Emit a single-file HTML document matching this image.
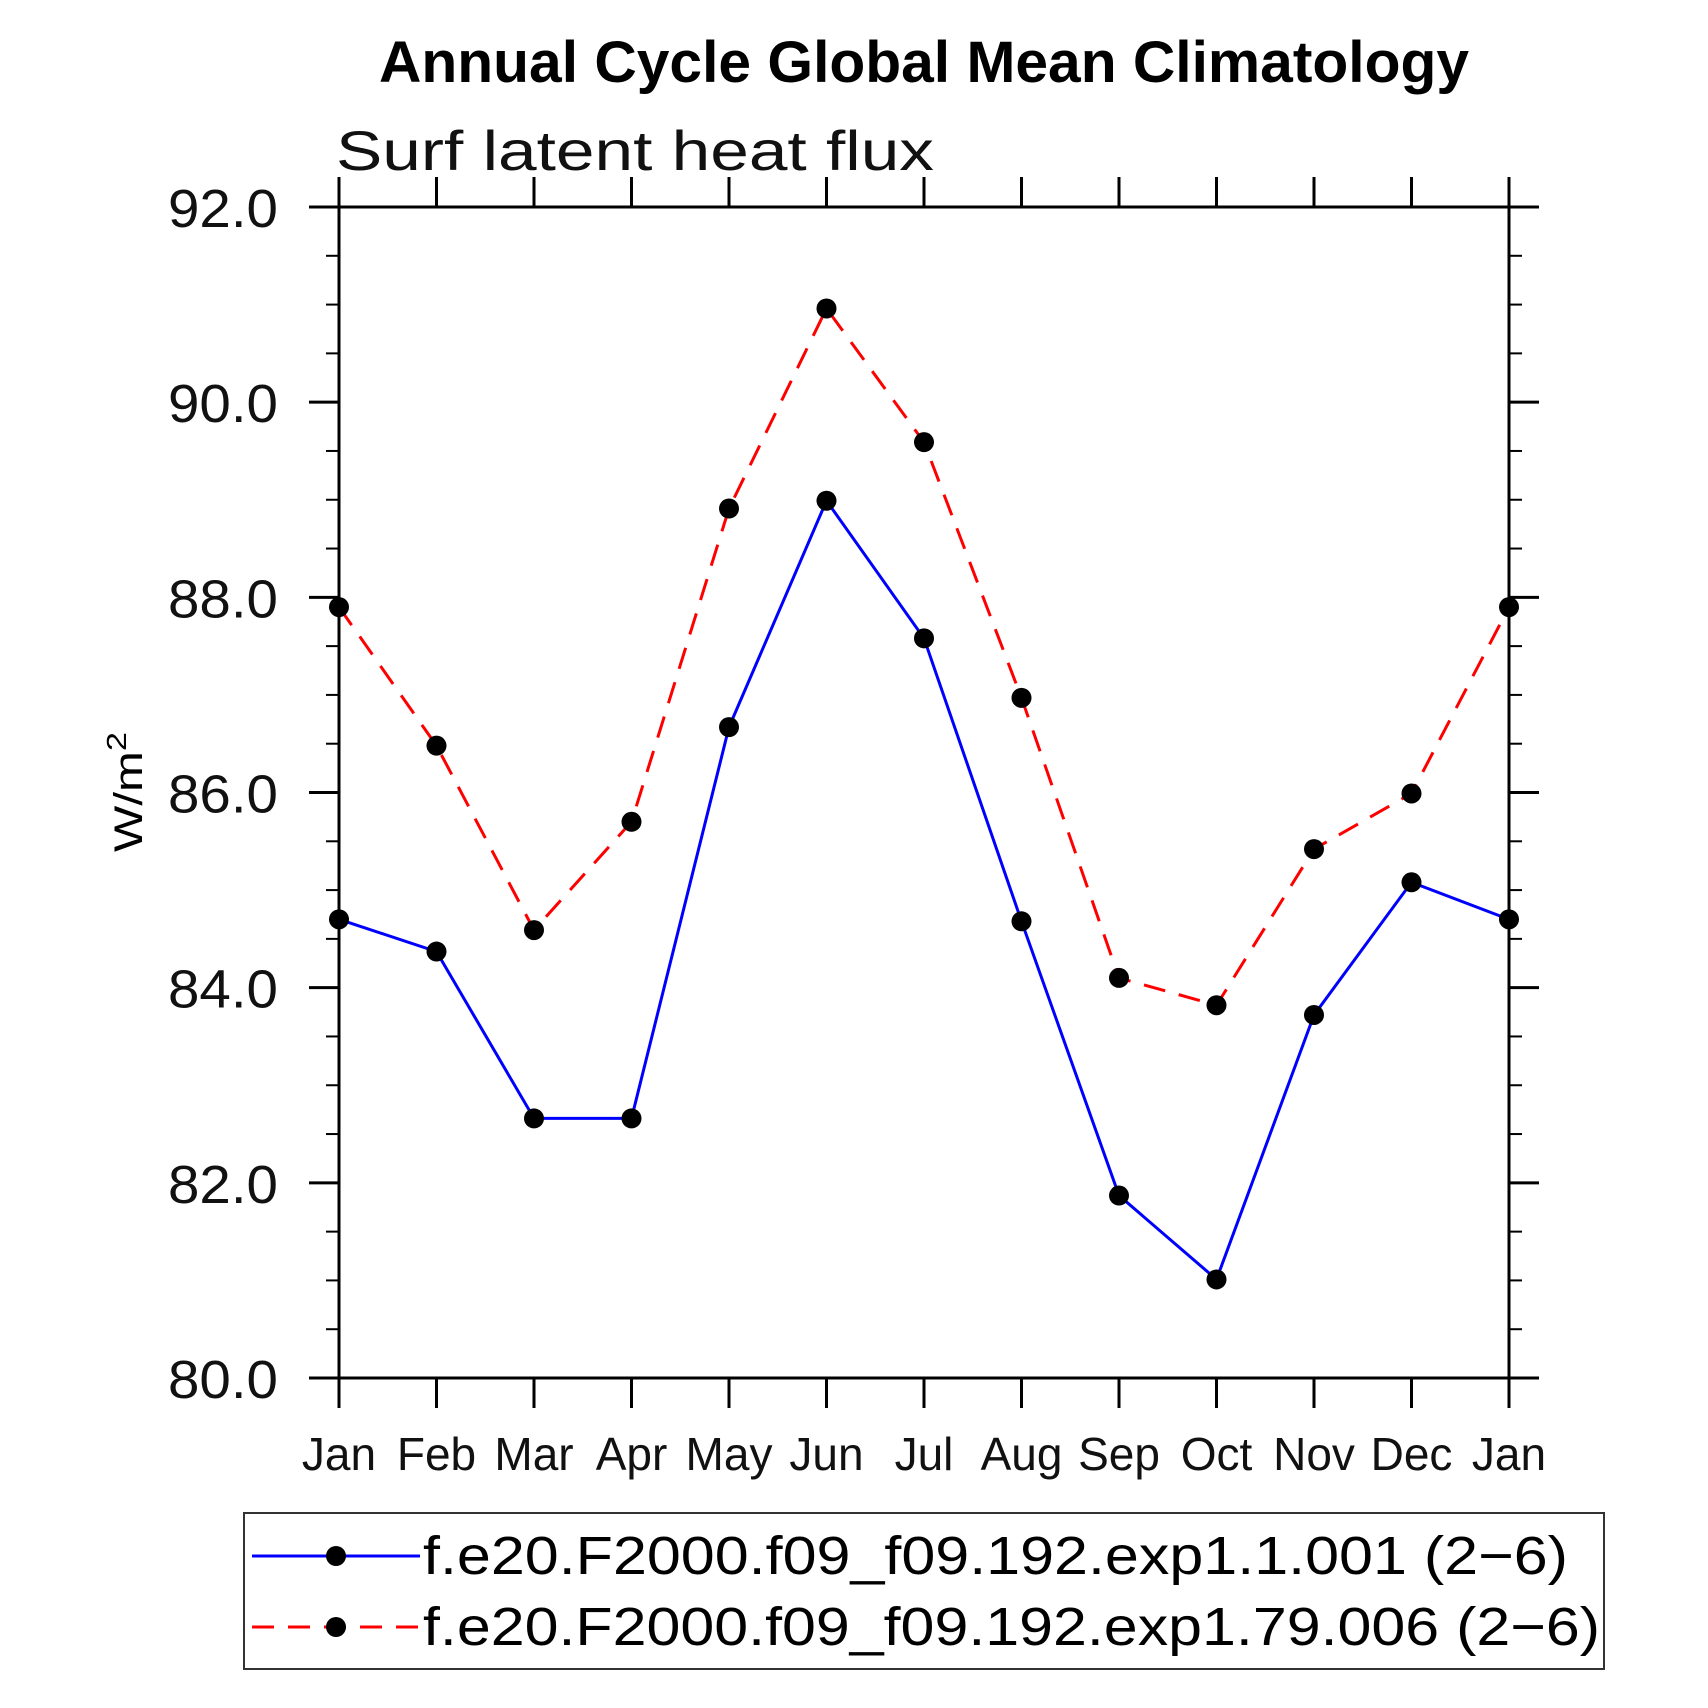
<!DOCTYPE html>
<html><head><meta charset="utf-8"><style>
html,body{margin:0;padding:0;background:#fff;}
svg{display:block;font-family:"Liberation Sans",sans-serif;}
</style></head><body>
<svg id="chart" width="1708" height="1708" viewBox="0 0 1708 1708" xmlns="http://www.w3.org/2000/svg">
<rect width="1708" height="1708" fill="#fff"/>
<text x="924" y="82" text-anchor="middle" font-size="58" font-weight="bold" textLength="1090" lengthAdjust="spacingAndGlyphs">Annual Cycle Global Mean Climatology</text>
<text x="336" y="170" font-size="56" fill="#111" textLength="598" lengthAdjust="spacingAndGlyphs">Surf latent heat flux</text>
<text transform="translate(142,792) rotate(-90)" text-anchor="middle" font-size="40" textLength="120" lengthAdjust="spacingAndGlyphs">W/m<tspan dy="-16" font-size="28">2</tspan></text>
<g id="axes"></g>
<g id="series"></g>
<g>
<rect x="244" y="1513" width="1360" height="156" fill="none" stroke="#333" stroke-width="2"/>
<g>
<line x1="252" y1="1556" x2="420" y2="1556" stroke="#0000ff" stroke-width="3"/>
<circle cx="336" cy="1556" r="10" fill="#000"/>
<text x="423" y="1574" font-size="54" textLength="1145" lengthAdjust="spacingAndGlyphs">f.e20.F2000.f09_f09.192.exp1.1.001 (2−6)</text>
</g>
<g>
<line x1="252" y1="1627" x2="420" y2="1627" stroke="#ff0000" stroke-width="3" stroke-dasharray="22,14"/>
<circle cx="336" cy="1627" r="10" fill="#000"/>
<text x="423" y="1645" font-size="54" textLength="1177" lengthAdjust="spacingAndGlyphs">f.e20.F2000.f09_f09.192.exp1.79.006 (2−6)</text>
</g>
</g>
</svg>
<script>
const months = ["Jan","Feb","Mar","Apr","May","Jun","Jul","Aug","Sep","Oct","Nov","Dec","Jan"];
const seriesBlue = [84.70,84.37,82.66,82.66,86.67,88.99,87.58,84.68,81.87,81.01,83.72,85.08,84.70];
const seriesRed = [87.90,86.48,84.59,85.70,88.91,90.96,89.59,86.97,84.10,83.82,85.42,85.99,87.90];
const yTickLabels = ["80.0","82.0","84.0","86.0","88.0","90.0","92.0"];
const yMin = 80, yMax = 92;

const L=339, R=1509, T=207, B=1378;
const NS="http://www.w3.org/2000/svg";
const xs = i => L + (R-L)*i/(months.length-1);
const ys = v => B - (B-T)*(v-yMin)/(yMax-yMin);
function mk(tag, attrs, parent){const e=document.createElementNS(NS,tag);for(const k in attrs)e.setAttribute(k,attrs[k]);parent.appendChild(e);return e;}
const axes=document.getElementById('axes');
const series=document.getElementById('series');

const frame=mk('rect',{x:L,y:T,width:R-L,height:B-T,fill:'none',stroke:'#000','stroke-width':3},axes);



for(let v=yMin; v<=yMax+1e-9; v+=0.5){
  const y=ys(v); const major=Math.abs(v/2-Math.round(v/2))<1e-9;
  const len=major?30:13;
  const t1=mk('line',{x1:L-len,y1:y,x2:L,y2:y,stroke:'#000','stroke-width':major?3:2},axes);
  
  
  const t2=mk('line',{x1:R,y1:y,x2:R+len,y2:y,stroke:'#000','stroke-width':major?3:2},axes);
  
  
}
yTickLabels.forEach(s=>{
  const v=parseFloat(s);
  const t=mk('text',{x:278,y:ys(v)+20,'text-anchor':'end','font-size':54,fill:'#111',textLength:110,lengthAdjust:'spacingAndGlyphs'},axes);
  t.textContent=s;
  
  
});
months.forEach((m,i)=>{
  const x=xs(i);
  const a=mk('line',{x1:x,y1:B,x2:x,y2:B+30,stroke:'#000','stroke-width':3},axes);
  
  
  const b=mk('line',{x1:x,y1:T-30,x2:x,y2:T,stroke:'#000','stroke-width':3},axes);
  
  
  const t=mk('text',{x:x,y:1470,'text-anchor':'middle','font-size':46,fill:'#111'},axes);
  t.textContent=m;
  
  
});

function drawSeries(vals,color,dash,name){
  const pts=vals.map((v,i)=>xs(i)+','+ys(v)).join(' ');
  const pl=mk('polyline',{points:pts,fill:'none',stroke:color,'stroke-width':3,'stroke-dasharray':dash},series);
  
  
  vals.forEach((v,i)=>{
    const c=mk('circle',{cx:xs(i),cy:ys(v),r:10,fill:'#000'},series);
    
    
  });
}
drawSeries(seriesBlue,'#0000ff','none','exp1-1-001');
drawSeries(seriesRed,'#ff0000','22,14','exp1-79-006');
</script>
</body></html>
